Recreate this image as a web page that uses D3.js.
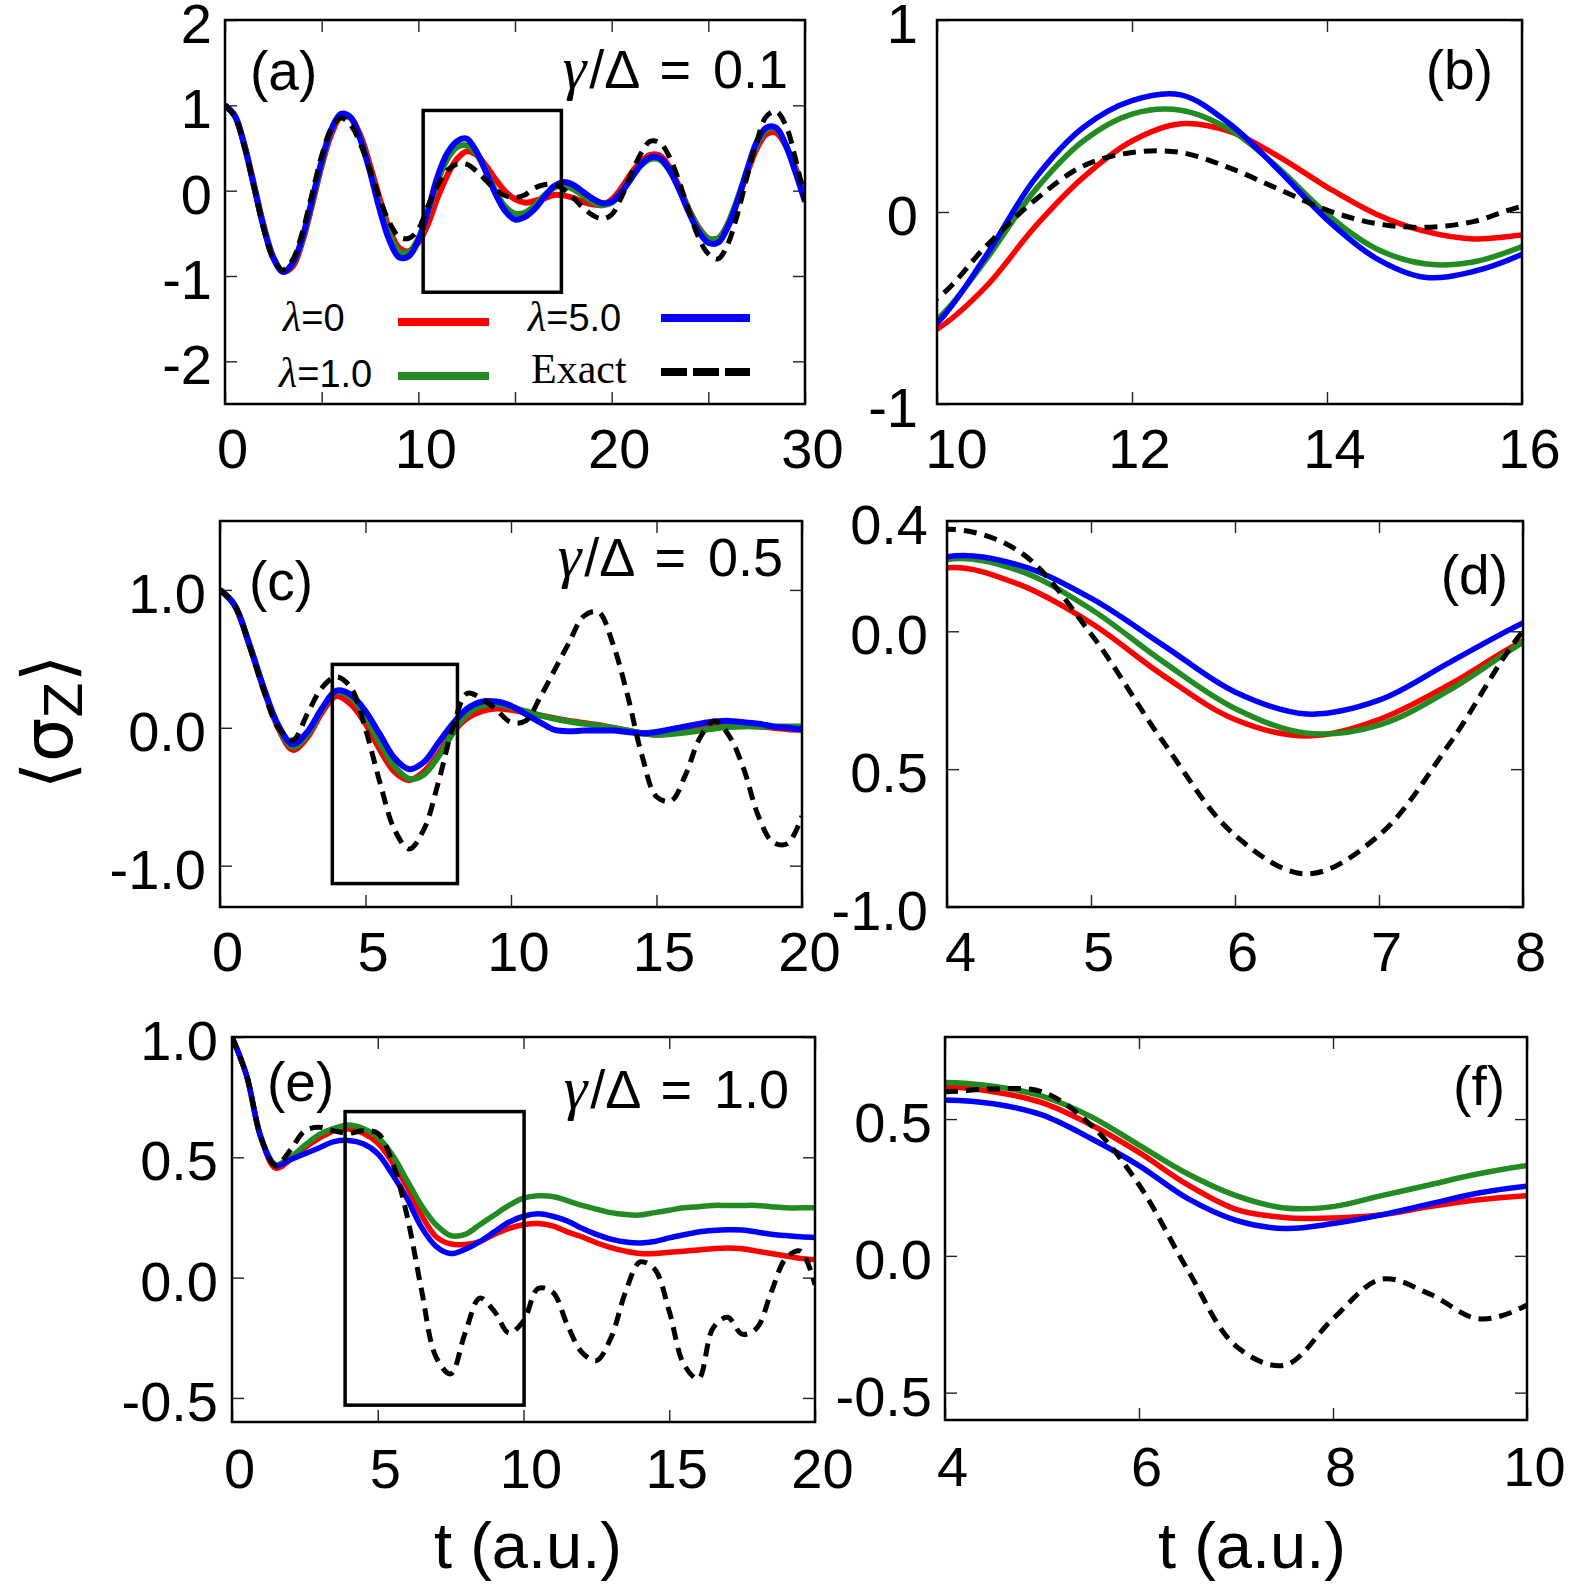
<!DOCTYPE html>
<html>
<head>
<meta charset="utf-8">
<script src="https://cdn.jsdelivr.net/npm/d3@7"></script>
<style>
  html, body { margin: 0; padding: 0; background: #fff; }
  svg { display: block; }
</style>
</head>
<body>
<svg id="fig" width="1581" height="1589"></svg>
<script>
// ---- data: gamma/Delta = 0.1  (panels a, b) ----
const tG01 = [0,0.5,1,1.5,2,2.5,3,3.5,4,4.5,5,5.5,6,6.5,7,7.5,8,8.5,9,9.5,10,10.5,11,11.5,12,12.5,13,13.5,14,14.5,15,15.5,16,16.5,17,17.5,18,18.5,19,19.5,20,20.5,21,21.5,22,22.5,23,23.5,24,24.5,25,25.5,26,26.5,27,27.5,28,28.5,29,29.5,30];
const redG01 = [1.00,0.88,0.54,0.07,-0.41,-0.78,-0.95,-0.89,-0.60,-0.17,0.29,0.66,0.87,0.85,0.65,0.30,-0.09,-0.45,-0.67,-0.71,-0.61,-0.39,-0.08,0.18,0.37,0.46,0.42,0.29,0.13,-0.01,-0.10,-0.14,-0.12,-0.09,-0.05,-0.055,-0.085,-0.13,-0.16,-0.17,-0.105,0.03,0.20,0.34,0.42,0.41,0.27,0.04,-0.22,-0.43,-0.56,-0.56,-0.40,-0.12,0.20,0.49,0.66,0.68,0.53,0.27,-0.03];
const greenG01 = [1.00,0.88,0.53,0.06,-0.42,-0.78,-0.95,-0.86,-0.57,-0.14,0.32,0.70,0.89,0.85,0.61,0.24,-0.17,-0.51,-0.71,-0.72,-0.56,-0.25,0.11,0.37,0.51,0.53,0.43,0.23,-0.01,-0.19,-0.27,-0.26,-0.18,-0.06,0.03,0.06,0.02,-0.055,-0.13,-0.17,-0.14,-0.02,0.14,0.29,0.37,0.36,0.23,0.01,-0.23,-0.44,-0.56,-0.56,-0.39,-0.10,0.23,0.54,0.71,0.73,0.53,0.24,-0.08];
const blueG01 = [1.00,0.88,0.53,0.05,-0.43,-0.79,-0.95,-0.85,-0.55,-0.11,0.35,0.72,0.90,0.86,0.60,0.22,-0.22,-0.58,-0.78,-0.77,-0.58,-0.23,0.17,0.44,0.58,0.61,0.46,0.22,-0.04,-0.24,-0.34,-0.31,-0.22,-0.08,0.05,0.10,0.07,-0.01,-0.09,-0.145,-0.13,-0.02,0.14,0.30,0.39,0.38,0.24,0.01,-0.26,-0.48,-0.61,-0.61,-0.43,-0.13,0.24,0.57,0.74,0.74,0.54,0.22,-0.13];
const exactG01 = [1.00,0.87,0.52,0.04,-0.45,-0.80,-0.93,-0.81,-0.49,-0.04,0.41,0.73,0.85,0.77,0.55,0.24,-0.09,-0.37,-0.54,-0.56,-0.45,-0.18,0.06,0.24,0.31,0.31,0.23,0.12,0.01,-0.06,-0.08,-0.05,0.03,0.07,0.075,0.02,-0.08,-0.195,-0.285,-0.33,-0.28,-0.08,0.19,0.43,0.58,0.56,0.39,0.10,-0.24,-0.55,-0.74,-0.80,-0.63,-0.28,0.16,0.57,0.87,0.93,0.77,0.38,-0.12];

// ---- data: gamma/Delta = 0.5  (panels c, d) ----
const tG05 = [0,0.5,1,1.5,2,2.5,3,3.5,4,4.5,5,5.5,6,6.5,7,7.5,8,8.5,9,9.5,10,10.5,11,11.5,12,12.5,13,13.5,14,14.5,15,15.5,16,16.5,17,17.5,18,18.5,19,19.5,20];
const redG05 = [1.00,0.89,0.61,0.28,0.00,-0.16,-0.07,0.11,0.23,0.17,0.03,-0.16,-0.32,-0.38,-0.32,-0.19,-0.035,0.07,0.12,0.14,0.13,0.11,0.09,0.07,0.05,0.035,0.02,0.0,-0.02,-0.04,-0.05,-0.04,-0.02,0.0,0.015,0.02,0.015,0.01,0.0,-0.01,-0.015];
const greenG05 = [1.00,0.89,0.61,0.29,0.01,-0.14,-0.05,0.13,0.26,0.22,0.08,-0.11,-0.28,-0.37,-0.34,-0.21,-0.04,0.10,0.16,0.17,0.15,0.12,0.09,0.065,0.045,0.03,0.015,0.0,-0.02,-0.04,-0.05,-0.045,-0.035,-0.02,-0.005,0.005,0.01,0.01,0.01,0.01,0.01];
const blueG05 = [1.00,0.89,0.61,0.29,0.02,-0.12,-0.03,0.14,0.27,0.24,0.12,-0.05,-0.22,-0.30,-0.25,-0.11,0.03,0.14,0.19,0.19,0.16,0.10,0.04,-0.015,-0.025,-0.02,-0.02,-0.02,-0.03,-0.04,-0.03,-0.01,0.01,0.03,0.045,0.05,0.04,0.03,0.01,0.0,-0.015];
const exactG05 = [1.00,0.89,0.60,0.27,0.00,-0.09,0.10,0.29,0.37,0.29,-0.01,-0.40,-0.74,-0.88,-0.74,-0.40,0.00,0.25,0.21,0.13,0.04,0.05,0.22,0.42,0.62,0.81,0.84,0.61,0.24,-0.20,-0.50,-0.53,-0.34,-0.07,0.05,-0.06,-0.30,-0.64,-0.83,-0.84,-0.64];

// ---- data: gamma/Delta = 1.0  (panels e, f) ----
const tG10 = [0,0.5,1,1.5,2,2.5,3,3.5,4,4.5,5,5.5,6,6.5,7,7.5,8,8.5,9,9.5,10,10.5,11,11.5,12,12.5,13,13.5,14,14.5,15,15.5,16,16.5,17,17.5,18,18.5,19,19.5,20];
const redG10 = [1.00,0.84,0.58,0.455,0.49,0.54,0.58,0.61,0.618,0.60,0.56,0.48,0.378,0.26,0.17,0.14,0.138,0.15,0.18,0.205,0.22,0.225,0.215,0.19,0.17,0.145,0.125,0.11,0.10,0.10,0.105,0.11,0.115,0.12,0.123,0.12,0.11,0.10,0.09,0.08,0.075];
const greenG10 = [1.00,0.84,0.58,0.47,0.50,0.55,0.595,0.62,0.634,0.62,0.584,0.51,0.405,0.30,0.22,0.175,0.18,0.22,0.26,0.30,0.33,0.34,0.337,0.32,0.30,0.285,0.27,0.262,0.26,0.27,0.28,0.29,0.295,0.30,0.30,0.30,0.30,0.295,0.29,0.29,0.29];
const blueG10 = [1.00,0.84,0.58,0.465,0.49,0.515,0.54,0.565,0.57,0.556,0.515,0.43,0.33,0.21,0.13,0.10,0.118,0.15,0.19,0.23,0.255,0.265,0.255,0.235,0.205,0.18,0.16,0.148,0.144,0.15,0.165,0.178,0.19,0.196,0.199,0.198,0.19,0.18,0.175,0.17,0.167];
const exactG10 = [1.00,0.84,0.58,0.465,0.53,0.61,0.625,0.61,0.60,0.61,0.60,0.48,0.26,-0.05,-0.33,-0.40,-0.23,-0.085,-0.14,-0.23,-0.18,-0.045,-0.06,-0.195,-0.31,-0.345,-0.25,-0.06,0.065,0.035,-0.14,-0.36,-0.42,-0.21,-0.165,-0.235,-0.21,-0.06,0.08,0.11,-0.03];

// zoom boxes drawn in a, c, e: [t0, t1, y0, y1]
const boxA = [10.25, 17.4, -1.19, 0.94];
const boxC = [3.86, 8.16, -1.13, 0.46];
const boxE = [3.88, 10.02, -0.53, 0.69];

// tick values and their labels
const xTicksA = [0,5,10,15,20,25,30], xLabA = [0,10,20,30];
const yTicksA = [-2,-1,0,1,2], yTextA = ['-2','-1','0','1','2'];
const xTicksB = [10,12,14,16], xLabB = [10,12,14,16];
const yTicksB = [-1,0,1], yTextB = ['-1','0','1'];
const xTicksC = [0,5,10,15,20], xLabC = [0,5,10,15,20];
const yTicksC = [-1,0,1], yTextC = ['-1.0','0.0','1.0'];
const xTicksD = [4,5,6,7,8], xLabD = [4,5,6,7,8];
const yTicksD = [-1,-0.5,0,0.4], yTextD = ['-1.0','0.5','0.0','0.4'];
const xTicksE = [0,5,10,15,20], xLabE = [0,5,10,15,20];
const yTicksE = [-0.5,0,0.5,1], yTextE = ['-0.5','0.0','0.5','1.0'];
const xTicksF = [4,6,8,10], xLabF = [4,6,8,10];
const yTicksF = [-0.5,0,0.5], yTextF = ['-0.5','0.0','0.5'];

const legendLabels = ['0', '5.0', '1.0'];

const SANS = '"Liberation Sans", Arial, Helvetica, sans-serif';
const SERIF = '"Liberation Serif", "Times New Roman", serif';
const COLORS = { red: '#ff0000', green: '#228b22', blue: '#0000ff', exact: '#000000' };

const svg = d3.select('#fig');

function seriesOf(t, v) { return t.map((d, i) => ({ t: d, v: v[i] })); }

const panels = [
  { id: 'a', left: 225, right: 805, top: 20, bottom: 404, xd: [0,30], yd: [-2.5,2],
    xt: xTicksA, xl: xLabA, yt: yTicksA, ytx: yTextA, t: tG01,
    s: [redG01, greenG01, blueG01, exactG01], box: boxA, lw: 6, ypad: 13, xpad: 24, firstDx: 0 },
  { id: 'b', left: 937, right: 1522, top: 20, bottom: 404, xd: [10,16], yd: [-1,1],
    xt: xTicksB, xl: xLabB, yt: yTicksB, ytx: yTextB, t: tG01,
    s: [redG01, greenG01, blueG01, exactG01], lw: 5.5, ypad: 19, xpad: 24, firstDx: 12 },
  { id: 'c', left: 220, right: 802, top: 521, bottom: 907, xd: [0,20], yd: [-1.3,1.5],
    xt: xTicksC, xl: xLabC, yt: yTicksC, ytx: yTextC, t: tG05,
    s: [redG05, greenG05, blueG05, exactG05], box: boxC, lw: 6, ypad: 14, xpad: 24, firstDx: 0 },
  { id: 'd', left: 947, right: 1523, top: 521, bottom: 907, xd: [4,8], yd: [-1,0.4],
    xt: xTicksD, xl: xLabD, yt: yTicksD, ytx: yTextD, t: tG05,
    s: [redG05, greenG05, blueG05, exactG05], lw: 5.5, ypad: 19, xpad: 24, firstDx: 6 },
  { id: 'e', left: 232, right: 815, top: 1037, bottom: 1422, xd: [0,20], yd: [-0.6,1.0],
    xt: xTicksE, xl: xLabE, yt: yTicksE, ytx: yTextE, t: tG10,
    s: [redG10, greenG10, blueG10, exactG10], box: boxE, lw: 5.5, ypad: 14, xpad: 26, firstDx: 0 },
  { id: 'f', left: 945, right: 1527, top: 1037, bottom: 1420, xd: [4,10], yd: [-0.6,0.8],
    xt: xTicksF, xl: xLabF, yt: yTicksF, ytx: yTextF, t: tG10,
    s: [redG10, greenG10, blueG10, exactG10], lw: 5.5, ypad: 13, xpad: 26, firstDx: 0 }
];

function styleAxis(sel) {
  sel.select('.domain').remove();
  sel.selectAll('.tick line').attr('stroke', '#222').attr('stroke-width', 1.4);
  sel.selectAll('.tick text')
    .attr('font-family', SANS).attr('font-size', 56).attr('fill', '#000');
}

panels.forEach(p => {
  const x = d3.scaleLinear().domain(p.xd).range([p.left, p.right]);
  const y = d3.scaleLinear().domain(p.yd).range([p.bottom, p.top]);
  const g = svg.append('g').attr('class', 'panel-' + p.id);

  svg.append('clipPath').attr('id', 'clip-' + p.id)
    .append('rect')
    .attr('x', p.left).attr('y', p.top)
    .attr('width', p.right - p.left).attr('height', p.bottom - p.top);

  // axes: inward ticks on all four sides
  g.append('g').attr('transform', `translate(0,${p.bottom})`)
    .call(d3.axisBottom(x).tickValues(p.xt).tickSize(-12).tickPadding(p.xpad)
      .tickFormat(v => p.xl.includes(v) ? String(v) : ''))
    .call(styleAxis)
    .selectAll('.tick text').attr('dx', (d, i) => 7 + (i === 0 ? p.firstDx : 0));
  g.append('g').attr('transform', `translate(0,${p.top})`)
    .call(d3.axisTop(x).tickValues(p.xt).tickSize(-12).tickFormat(''))
    .call(styleAxis);
  g.append('g').attr('transform', `translate(${p.left},0)`)
    .call(d3.axisLeft(y).tickValues(p.yt).tickSize(-12).tickPadding(p.ypad)
      .tickFormat(v => p.ytx[p.yt.indexOf(v)]))
    .call(styleAxis)
    .selectAll('.tick text').attr('dy', '0.4em');
  g.append('g').attr('transform', `translate(${p.right},0)`)
    .call(d3.axisRight(y).tickValues(p.yt).tickSize(-12).tickFormat(''))
    .call(styleAxis);

  // curves
  const line = d3.line().x(d => x(d.t)).y(d => y(d.v)).curve(d3.curveCatmullRom.alpha(0.5));
  const plot = g.append('g').attr('clip-path', `url(#clip-${p.id})`);
  const cols = [COLORS.red, COLORS.green, COLORS.blue];
  p.s.slice(0, 3).forEach((v, i) => {
    plot.append('path').datum(seriesOf(p.t, v))
      .attr('fill', 'none').attr('stroke', cols[i])
      .attr('stroke-width', p.lw).attr('stroke-linejoin', 'round')
      .attr('d', line);
  });
  plot.append('path').datum(seriesOf(p.t, p.s[3]))
    .attr('fill', 'none').attr('stroke', COLORS.exact)
    .attr('stroke-width', 5).attr('stroke-dasharray', '13,8')
    .attr('d', line);

  // zoom box
  if (p.box) {
    g.append('rect')
      .attr('x', x(p.box[0])).attr('y', y(p.box[3]))
      .attr('width', x(p.box[1]) - x(p.box[0]))
      .attr('height', y(p.box[2]) - y(p.box[3]))
      .attr('fill', 'none').attr('stroke', '#000').attr('stroke-width', 3.5);
  }

  // frame
  g.append('rect')
    .attr('x', p.left).attr('y', p.top)
    .attr('width', p.right - p.left).attr('height', p.bottom - p.top)
    .attr('fill', 'none').attr('stroke', '#000').attr('stroke-width', 2.5);
});

// panel letters
const letters = [
  { s: '(a)', x: 250, y: 90, a: 'start' }, { s: '(b)', x: 1493, y: 89, a: 'end' },
  { s: '(c)', x: 249, y: 600, a: 'start' }, { s: '(d)', x: 1508, y: 594, a: 'end' },
  { s: '(e)', x: 267, y: 1101, a: 'start' }, { s: '(f)', x: 1505, y: 1105, a: 'end' }
];
svg.selectAll('text.letter').data(letters).join('text')
  .attr('class', 'letter')
  .attr('x', d => d.x).attr('y', d => d.y).attr('text-anchor', d => d.a)
  .attr('font-family', SANS).attr('font-size', 55).text(d => d.s);

// gamma / Delta annotations
const gammaNotes = [
  { v: '0.1', x: 788, y: 88 }, { v: '0.5', x: 783, y: 576 }, { v: '1.0', x: 789, y: 1108 }
];
gammaNotes.forEach(n => {
  const tx = svg.append('text').attr('x', n.x).attr('y', n.y).attr('text-anchor', 'end')
    .attr('font-family', SANS).attr('font-size', 54).attr('word-spacing', 7);
  tx.append('tspan').attr('font-family', SERIF).attr('font-style', 'italic').attr('font-size', 60).text('γ');
  tx.append('tspan').attr('dx', 3).text('/Δ = ' + n.v);
});

// legend in panel (a)
const leg = svg.append('g');
function lamText(x, y, val) {
  const t = leg.append('text').attr('x', x).attr('y', y)
    .attr('font-family', SANS).attr('font-size', 38);
  t.append('tspan').attr('font-family', SERIF).attr('font-style', 'italic').attr('font-size', 42).text('λ');
  t.append('tspan').text('=' + val);
}
lamText(283, 331, legendLabels[0]);
lamText(528, 331, legendLabels[1]);
lamText(279, 387, legendLabels[2]);
leg.append('text').attr('x', 531).attr('y', 383)
  .attr('font-family', SERIF).attr('font-size', 42).text('Exact');
const legLines = [
  { x1: 398, x2: 489, y: 322, c: COLORS.red, dash: null },
  { x1: 661, x2: 750, y: 318, c: COLORS.blue, dash: null },
  { x1: 398, x2: 489, y: 376, c: COLORS.green, dash: null },
  { x1: 661, x2: 750, y: 372, c: COLORS.exact, dash: '26,6' }
];
legLines.forEach(l => {
  leg.append('line').attr('x1', l.x1).attr('x2', l.x2).attr('y1', l.y).attr('y2', l.y)
    .attr('stroke', l.c).attr('stroke-width', 8)
    .attr('stroke-dasharray', l.dash);
});

// axis titles
const yt = svg.append('text')
  .attr('transform', 'translate(72,722) rotate(-90)')
  .attr('text-anchor', 'middle')
  .attr('font-family', '"DejaVu Sans", sans-serif').attr('font-size', 70);
yt.append('tspan').text('⟨σ');
yt.append('tspan').attr('font-size', 52).attr('dy', 10).text('Z');
yt.append('tspan').attr('dy', -10).text('⟩');

svg.append('text').attr('x', 528).attr('y', 1568).attr('text-anchor', 'middle')
  .attr('font-family', SANS).attr('font-size', 65).text('t (a.u.)');
svg.append('text').attr('x', 1252).attr('y', 1568).attr('text-anchor', 'middle')
  .attr('font-family', SANS).attr('font-size', 65).text('t (a.u.)');
</script>
</body>
</html>
